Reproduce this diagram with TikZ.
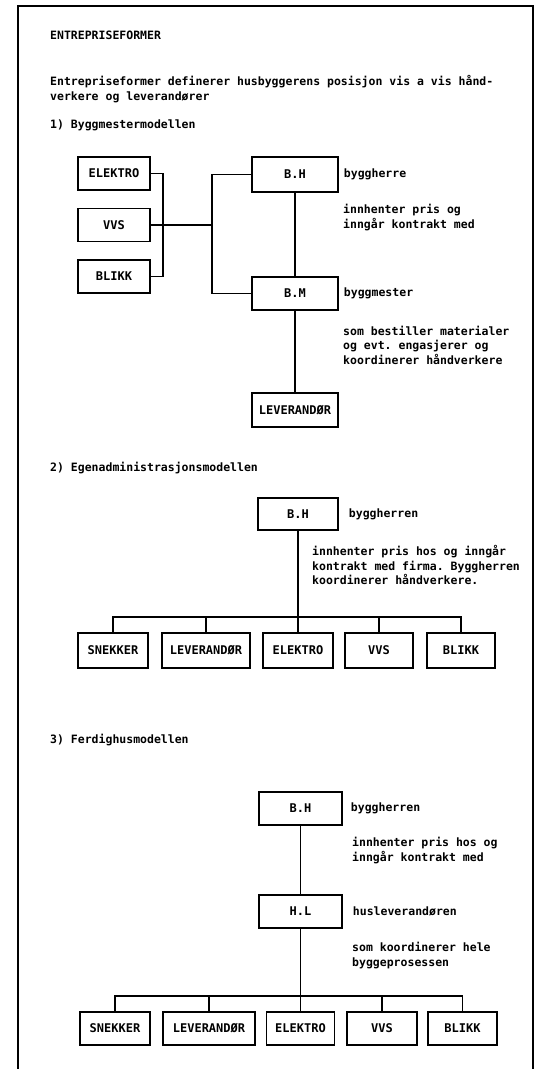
\documentclass[tikz,border=0pt]{standalone}
\usepackage{fontspec}
\setmonofont{DejaVu Sans Mono}
\usetikzlibrary{positioning}

\tikzset{
    firm/.style = {draw, line width=1.5pt, minimum height=33pt, inner sep=0pt,
                   font=\ttfamily\bfseries\fontsize{12}{14}\selectfont},
    note/.style = {anchor=west, align=left, inner sep=0pt,
                   font=\ttfamily\bfseries\fontsize{11.5}{14.5}\selectfont},
    link/.style = {line width=1.5pt},
}

\begin{document}
\begin{tikzpicture}[x=1pt, y=-1pt]
    \useasboundingbox (0,0) rectangle (541,1069);
    \draw[line width=2pt] (18,1069) -- (18,6) -- (533,6) -- (533,1069);

    \node[note] (title) at (50,35) {ENTREPRISEFORMER};
    \node[note] (intro) at (50,89) {Entrepriseformer definerer husbyggerens posisjon vis a vis hånd-\\verkere og leverandører};

    % 1) byggmester
    \node[note] (headA) at (50,125) {1) Byggmestermodellen};
    \node[firm, minimum width=72pt] (elektroA) at (114,173.5) {ELEKTRO};
    \node[firm, minimum width=72pt] (vvsA) at (114,225) {VVS};
    \node[firm, minimum width=72pt] (blikkA) at (114,276.5) {BLIKK};
    \node[firm, minimum width=86pt, minimum height=35pt] (bhA) at (295,174.5) {B.H};
    \node[firm, minimum width=86pt] (bmA) at (295,293.5) {B.M};
    \node[firm, minimum width=86pt, minimum height=34pt] (levA) at (295,410) {LEVERANDØR};
    \coordinate (brA) at (163,225);
    \coordinate (jA) at (212,225);

    \node[note, right=5pt of bhA] (rolleA) {byggherre};
    \node[note] (kontraktA) at (343,217.5) {innhenter pris og\\inngår kontrakt med};
    \node[note, right=5pt of bmA] (mesterA) {byggmester};
    \node[note] (bestillA) at (343,345) {som bestiller materialer\\og evt. engasjerer og\\koordinerer håndverkere};

    \draw[link] (elektroA.east) -| (brA) |- (blikkA.east);
    \draw[link] (vvsA.east) -- (jA);
    \draw[link] (bhA.west) -| (jA) |- (bmA.west);
    \draw[link] (bhA.south) -- (bmA.north);
    \draw[link] (bmA.south) -- (levA.north);

    % 2) egenadministrasjon
    \node[note] (headB) at (50,468) {2) Egenadministrasjonsmodellen};
    \node[firm, minimum width=80pt, minimum height=32pt] (bhB) at (298,514) {B.H};
    \foreach \n/\x/\w/\t in {snekkerB/113/70/SNEKKER, levB/206/88/LEVERANDØR,
        elektroB/298/70/ELEKTRO, vvsB/379/68/VVS, blikkB/461/68/BLIKK}
        \node[firm, minimum width=\w pt, minimum height=35pt] (\n) at (\x,650.5) {\t};
    \coordinate (busB) at (298,617);

    \node[note, right=10pt of bhB] (rolleB) {byggherren};
    \node[note] (kontraktB) at (312,565) {innhenter pris hos og inngår\\kontrakt med firma. Byggherren\\koordinerer håndverkere.};

    \draw[link] (bhB.south) -- (elektroB.north);
    \draw[link] (snekkerB.north) |- (busB) -| (blikkB.north);
    \foreach \n in {levB, vvsB}
        \draw[link] (\n.north) -- (\n.north |- busB);

    % 3) ferdighus
    \node[note] (headC) at (50,740) {3) Ferdighusmodellen};
    \node[firm, minimum width=83pt] (bhC) at (300.5,808.5) {B.H};
    \node[firm, minimum width=83pt] (hlC) at (300.5,911.5) {H.L};
    \foreach \n/\x/\w/\t in {snekkerC/115/70/SNEKKER, levC/209/92/LEVERANDØR,
        elektroC/300.5/68/ELEKTRO, vvsC/382/70/VVS, blikkC/462.5/69/BLIKK}
        \node[firm, minimum width=\w pt] (\n) at (\x,1028.5) {\t};
    \coordinate (busC) at (300.5,996);

    \node[note, right=8pt of bhC] (rolleC) {byggherren};
    \node[note] (kontraktC) at (352,850.5) {innhenter pris hos og\\inngår kontrakt med};
    \node[note, right=10pt of hlC] (husC) {husleverandøren};
    \node[note] (koordC) at (352,955.5) {som koordinerer hele\\byggeprosessen};

    \draw[link] (bhC.south) -- (hlC.north);
    \draw[link] (hlC.south) -- (elektroC.north);
    \draw[link] (snekkerC.north) |- (busC) -| (blikkC.north);
    \foreach \n in {levC, vvsC}
        \draw[link] (\n.north) -- (\n.north |- busC);
\end{tikzpicture}
\end{document}
